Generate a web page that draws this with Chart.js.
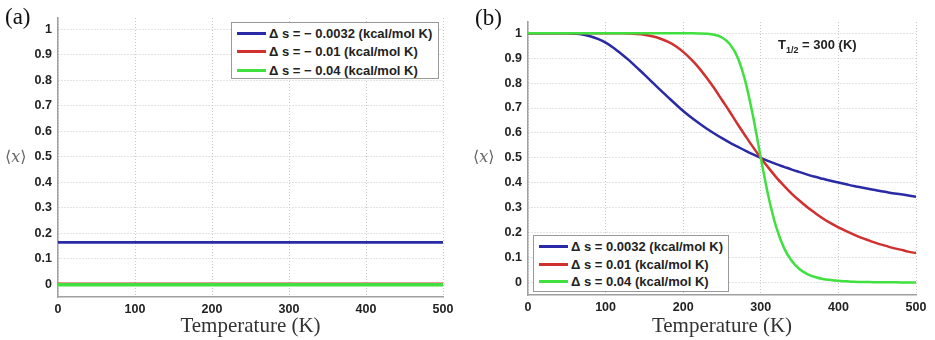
<!DOCTYPE html>
<html>
<head>
<meta charset="utf-8">
<script src="https://cdn.jsdelivr.net/npm/chart.js@4.4.0/dist/chart.umd.min.js"></script>
<style>
  body { margin: 0; background: #fff; }
  #wrap { position: relative; width: 935px; height: 340px; overflow: hidden; font-family: "Liberation Sans", Arial, sans-serif; }
  canvas { position: absolute; top: 0; }
  .panel { position: absolute; font-family: "Liberation Serif", serif; font-size: 23px; color: #111; line-height: 1; }
  .ylab { position: absolute; font-family: "DejaVu Serif", "Liberation Serif", serif; font-size: 16px; color: #666; line-height: 1; }
  .legend { position: absolute; background: #fff; border: 1px solid #999; box-sizing: border-box; }
  .legend .row { display: flex; align-items: center; font-weight: bold; font-size: 13px; color: #222; white-space: nowrap; }
  .legend .swatch { display: inline-block; width: 29px; height: 3px; margin-right: 3px; }
  .note { position: absolute; font-weight: bold; font-size: 13px; color: #222; white-space: nowrap; }
  .note sub { font-size: 9px; }
</style>
</head>
<body>
<div id="wrap">
  <canvas id="chartA" width="465" height="340" style="left:0px"></canvas>
  <canvas id="chartB" width="465" height="340" style="left:470px"></canvas>
  <div class="panel" style="left:5px;top:5px">(a)</div>
  <div class="panel" style="left:475px;top:6px">(b)</div>
  <div class="ylab" style="left:5px;top:149px">⟨<i>x</i>⟩</div>
  <div class="ylab" style="left:473px;top:149px">⟨<i>x</i>⟩</div>
  <div class="legend" id="legendA" style="left:231px;top:22px;width:208px;height:57px"></div>
  <div class="legend" id="legendB" style="left:533px;top:235px;width:196px;height:57px"></div>
  <div class="note" style="left:778px;top:37px">T<sub>1/2</sub> = 300 (K)</div>
</div>
<script>
// x / y ticks
const xTicks = [0, 100, 200, 300, 400, 500];
const yTicks = [0, 0.1, 0.2, 0.3, 0.4, 0.5, 0.6, 0.7, 0.8, 0.9, 1];

const colors = ['#2a2aa6', '#d0302e', '#3fe03f'];

// Panel (a): negative entropy change, flat lines
const labelsA = ['Δ s = − 0.0032 (kcal/mol K)', 'Δ s = − 0.01 (kcal/mol K)', 'Δ s = − 0.04 (kcal/mol K)'];
const tempsA = [0, 500];
const blueA = [0.164, 0.164];
const redA = [0.002, 0.002];
const greenA = [-0.002, -0.002];

// Panel (b): positive entropy change, T1/2 = 300 K
const labelsB = ['Δ s = 0.0032 (kcal/mol K)', 'Δ s = 0.01 (kcal/mol K)', 'Δ s = 0.04 (kcal/mol K)'];
const tempsB = [0, 10, 20, 30, 40, 50, 60, 70, 80, 90,
    100, 110, 120, 130, 140, 150, 160, 170, 180, 190,
    200, 210, 220, 230, 240, 250, 260, 270, 280, 290,
    300, 310, 320, 330, 340, 350, 360, 370, 380, 390,
    400, 410, 420, 430, 440, 450, 460, 470, 480, 490, 500];
const blueB = [1, 1, 1, 1, 1, 0.9997, 0.998, 0.995, 0.988, 0.977,
    0.962, 0.942, 0.918, 0.892, 0.863, 0.834, 0.804, 0.774, 0.745, 0.716,
    0.688, 0.663, 0.64, 0.618, 0.598, 0.579, 0.561, 0.545, 0.529, 0.514,
    0.5, 0.487, 0.475, 0.464, 0.453, 0.443, 0.433, 0.424, 0.416, 0.408,
    0.401, 0.394, 0.387, 0.381, 0.375, 0.369, 0.364, 0.358, 0.354, 0.349, 0.344];
const redB = [1, 1, 1, 1, 1, 1, 1, 1, 1, 1,
    1, 0.9998, 0.9995, 0.9986, 0.997, 0.994, 0.988, 0.979, 0.966, 0.949,
    0.925, 0.896, 0.862, 0.822, 0.779, 0.732, 0.685, 0.636, 0.589, 0.543,
    0.5, 0.46, 0.422, 0.388, 0.356, 0.328, 0.302, 0.279, 0.257, 0.238,
    0.221, 0.206, 0.192, 0.179, 0.168, 0.157, 0.148, 0.139, 0.132, 0.124, 0.118];
const greenB = [1, 1, 1, 1, 1, 1, 1, 1, 1, 1,
    1, 1, 1, 1, 1, 1, 1, 1, 1, 1,
    1, 0.9998, 0.9993, 0.998, 0.994, 0.983, 0.957, 0.904, 0.808, 0.667,
    0.5, 0.343, 0.221, 0.138, 0.086, 0.053, 0.034, 0.022, 0.014, 0.01,
    0.007, 0.005, 0.003, 0.002, 0.002, 0.001, 0.001, 0.001, 0.0005, 0.0004, 0.0003];

function toPoints(xs, ys) {
    return xs.map((x, i) => ({ x: x, y: ys[i] }));
}

function makeDatasets(xs, series, labels, widths) {
    return series.map((ys, i) => ({
        label: labels[i],
        data: toPoints(xs, ys),
        borderColor: colors[i],
        backgroundColor: colors[i],
        borderWidth: widths[i],
        pointRadius: 0,
        cubicInterpolationMode: 'monotone',
        order: series.length - i
    }));
}

const tickFont = { family: '"Liberation Sans", Arial, sans-serif', size: 12.5, weight: 'bold' };

function makeChart(id, datasets, topPad, rightPad, xHeight) {
    const ctx = document.getElementById(id).getContext('2d');
    return new Chart(ctx, {
        type: 'line',
        data: { datasets: datasets },
        options: {
            responsive: false,
            animation: false,
            layout: { padding: { top: topPad, right: rightPad, left: 0, bottom: 0 } },
            plugins: { legend: { display: false }, tooltip: { enabled: false } },
            scales: {
                x: {
                    type: 'linear',
                    min: 0,
                    max: 500,
                    afterBuildTicks: axis => { axis.ticks = xTicks.map(v => ({ value: v })); },
                    afterFit: scale => { scale.height = xHeight; },
                    grid: { color: '#c8c8c8', lineWidth: 1, drawTicks: false },
                    border: { display: true, color: '#a0a0a0', width: 1.5, dash: [1, 2] },
                    ticks: { color: '#222', font: tickFont, padding: 5, maxRotation: 0 },
                    title: {
                        display: true,
                        text: 'Temperature (K)',
                        color: '#333',
                        font: { family: '"Liberation Serif", serif', size: 21 },
                        padding: { top: 0, bottom: 1 }
                    }
                },
                y: {
                    min: -0.05,
                    max: 1.045,
                    afterBuildTicks: axis => { axis.ticks = yTicks.map(v => ({ value: v })); },
                    afterFit: scale => { scale.width = 58; },
                    grid: { color: '#c8c8c8', lineWidth: 1, drawTicks: false },
                    border: { display: true, color: '#a0a0a0', width: 1.5, dash: [1, 2] },
                    ticks: { color: '#222', font: tickFont, padding: 6, callback: v => String(v) }
                }
            }
        }
    });
}

// HTML legend with a box, built from the chart datasets
function buildLegend(chart, elId, rowHeight, padTop) {
    const el = document.getElementById(elId);
    el.style.paddingTop = padTop + 'px';
    el.style.paddingLeft = '5px';
    chart.data.datasets.forEach(ds => {
        const row = document.createElement('div');
        row.className = 'row';
        row.style.height = rowHeight + 'px';
        const sw = document.createElement('span');
        sw.className = 'swatch';
        sw.style.background = ds.borderColor;
        const txt = document.createElement('span');
        txt.textContent = ds.label;
        row.appendChild(sw);
        row.appendChild(txt);
        el.appendChild(row);
    });
}

const chartA = makeChart('chartA', makeDatasets(tempsA, [blueA, redA, greenA], labelsA, [2.8, 2.5, 3.5]), 18, 22, 43);
const chartB = makeChart('chartB', makeDatasets(tempsB, [blueB, redB, greenB], labelsB, [2.5, 2.5, 2.5]), 22, 19, 45);

buildLegend(chartA, 'legendA', 18.5, 1);
buildLegend(chartB, 'legendB', 17.5, 2);
</script>
</body>
</html>
